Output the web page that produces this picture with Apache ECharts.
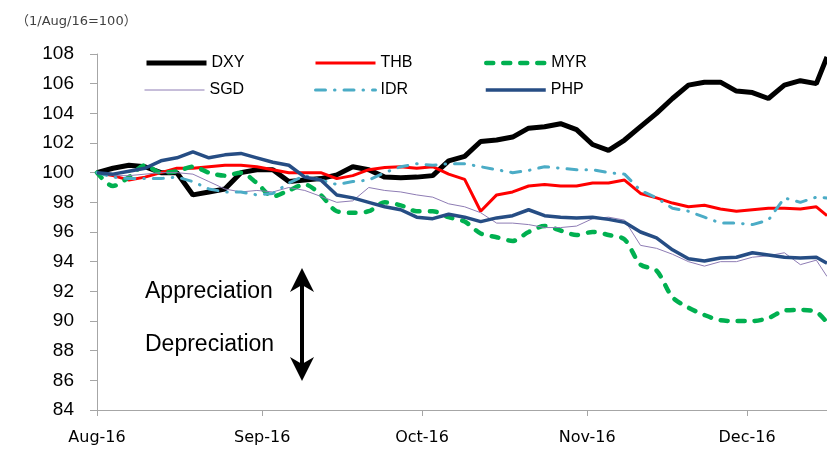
<!doctype html>
<html>
	<head>
		<meta charset="UTF-8">
		<title></title>
		<style type="text/css">
			html, body { margin: 0; padding: 0; background: #fff; }
			#chart { width: 827px; height: 450px; }
		</style>
	</head>
	<body>
		<div id="chart"></div>
		<script src="https://cdn.jsdelivr.net/npm/echarts@6.0.0/dist/echarts.min.js"></script>
		<script type="text/javascript">
			// 日付 (1/Aug/16=100)
			var dates = [
				'2016-08-01','2016-08-04','2016-08-07','2016-08-10','2016-08-13','2016-08-16','2016-08-19','2016-08-22','2016-08-25','2016-08-28','2016-08-31',
				'2016-09-03','2016-09-06','2016-09-09','2016-09-12','2016-09-15','2016-09-18','2016-09-21','2016-09-24','2016-09-27','2016-09-30',
				'2016-10-03','2016-10-06','2016-10-09','2016-10-12','2016-10-15','2016-10-18','2016-10-21','2016-10-24','2016-10-27','2016-10-30',
				'2016-11-02','2016-11-05','2016-11-08','2016-11-11','2016-11-14','2016-11-17','2016-11-20','2016-11-23','2016-11-26','2016-11-29',
				'2016-12-02','2016-12-05','2016-12-08','2016-12-11','2016-12-14','2016-12-16'
			];
			var monthLabels = ['Jan','Feb','Mar','Apr','May','Jun','Jul','Aug','Sep','Oct','Nov','Dec'];

			var dxy = [100.0,100.3,100.5,100.4,100.0,100.0,98.5,98.7,98.9,100.0,100.2,
				100.2,99.4,99.5,99.6,99.85,100.4,100.2,99.7,99.65,99.7,
				99.8,100.8,101.1,102.1,102.2,102.4,103.0,103.1,103.3,102.9,
				101.9,101.5,102.2,103.1,104.0,105.0,105.9,106.1,106.1,105.5,
				105.4,105.0,105.9,106.2,106.0,107.8];
			var thb = [100.0,99.8,99.5,99.7,100.0,100.3,100.3,100.4,100.5,100.5,100.4,
				100.2,100.0,100.0,100.0,99.6,99.8,100.2,100.35,100.4,100.3,
				100.4,99.9,99.55,97.4,98.5,98.7,99.1,99.2,99.1,99.1,
				99.3,99.3,99.5,98.6,98.3,97.95,97.7,97.8,97.55,97.4,
				97.5,97.6,97.6,97.55,97.7,97.1];
			var myr = [100.0,99.1,99.7,100.5,100.0,100.1,100.4,100.0,99.8,100.0,99.3,
				98.4,98.8,99.2,98.5,97.4,97.3,97.4,98.0,97.8,97.4,
				97.4,97.0,96.7,95.9,95.65,95.4,96.0,96.4,96.1,95.8,
				96.0,95.8,95.5,93.8,93.4,91.6,90.9,90.4,90.05,90.0,
				90.0,90.2,90.7,90.75,90.6,89.9];
			var sgd = [100.0,99.8,99.8,99.9,100.0,100.0,99.9,99.4,98.9,98.7,98.8,
				98.7,99.0,98.8,98.4,98.0,98.1,99.0,98.8,98.7,98.5,
				98.35,97.9,97.7,97.3,96.6,96.6,96.5,96.3,96.3,96.4,
				96.9,97.0,96.8,95.1,94.9,94.5,94.0,93.7,94.0,94.0,
				94.3,94.4,94.6,93.8,94.1,93.0];
			var idr = [100.0,99.7,99.6,99.6,99.6,99.7,99.4,98.9,98.7,98.7,98.5,
				98.6,99.3,99.8,99.5,99.2,99.4,99.5,100.0,100.4,100.6,
				100.5,100.6,100.6,100.4,100.2,100.0,100.15,100.4,100.3,100.2,
				100.2,100.0,99.9,98.8,98.3,97.6,97.4,97.0,96.6,96.6,
				96.5,96.8,98.3,98.0,98.35,98.3];
			var php = [100.0,99.9,100.1,100.3,100.8,101.0,101.4,101.0,101.2,101.3,101.0,
				100.7,100.5,99.7,99.5,98.5,98.3,98.0,97.7,97.5,97.0,
				96.9,97.2,97.0,96.7,96.95,97.1,97.5,97.1,97.0,96.95,
				97.0,96.85,96.65,96.0,95.6,94.8,94.2,94.05,94.25,94.3,
				94.6,94.45,94.3,94.25,94.3,93.9];

			function pairs(values) {
				return dates.map(function (d, i) { return [d, values[i]]; });
			}

			var chart = echarts.init(document.getElementById('chart'));
			var axisColor = '#a6a6a6';

			//系列の線種
			var styles = {
				DXY: { width: 5, color: '#000000' },
				THB: { width: 3, color: '#ff0000' },
				MYR: { width: 4.5, color: '#00b050', type: [7, 10], cap: 'round' },
				SGD: { width: 1, color: '#8e7cb4' },
				IDR: { width: 3, color: '#4bacc6', type: [10, 9, 0.5, 9], cap: 'round' },
				PHP: { width: 3.5, color: '#264d84' }
			};

			//凡例: 3列 x 2行, 1項目ずつ配置
			function legendItem(name, left, top) {
				return {
					data: [name],
					left: left,
					top: top,
					itemWidth: 60,
					itemHeight: 14,
					itemStyle: { opacity: 0 },
					lineStyle: styles[name],
					textStyle: { fontFamily: 'Liberation Sans', fontSize: 16, color: '#000' }
				};
			}

			var option = {
				animation: false,
				backgroundColor: '#fff',
				title: {
					text: '（1/Aug/16=100）',
					left: 11,
					top: 10,
					textStyle: {
						fontFamily: 'DejaVu Sans, Noto Sans CJK JP',
						fontSize: 13,
						fontWeight: 'normal',
						color: '#404040'
					}
				},
				legend: [
					legendItem('DXY', 139, 50),
					legendItem('THB', 309, 50),
					legendItem('MYR', 479, 50),
					legendItem('SGD', 139, 77),
					legendItem('IDR', 309, 77),
					legendItem('PHP', 479, 77)
				],
				grid: {
					left: 97,
					right: 0,
					top: 54,
					bottom: 40
				},
				xAxis: {
					type: 'time',
					min: dates[0],
					max: dates[dates.length - 1],
					minInterval: 28 * 86400000,
					maxInterval: 31 * 86400000,
					axisLine: { lineStyle: { color: axisColor, width: 1 } },
					axisTick: { length: 6, lineStyle: { color: axisColor } },
					splitLine: { show: false },
					axisLabel: {
						margin: 20,
						fontFamily: 'DejaVu Sans',
						fontSize: 16,
						color: '#000',
						formatter: function (v) {
							var d = new Date(v);
							return monthLabels[d.getMonth()] + '-' + String(d.getFullYear()).slice(2);
						}
					}
				},
				yAxis: {
					type: 'value',
					min: 84,
					max: 108,
					interval: 2,
					axisLine: { show: true, lineStyle: { color: axisColor, width: 1 } },
					axisTick: { show: true, length: 7, lineStyle: { color: axisColor } },
					splitLine: { show: false },
					axisLabel: {
						margin: 23,
						fontFamily: 'Liberation Sans',
						fontSize: 19,
						color: '#000'
					}
				},
				series: [
					{ name: 'DXY', data: pairs(dxy) },
					{ name: 'THB', data: pairs(thb) },
					{ name: 'MYR', data: pairs(myr), smooth: 0.3 },
					{ name: 'SGD', data: pairs(sgd) },
					{ name: 'IDR', data: pairs(idr) },
					{ name: 'PHP', data: pairs(php) }
				].map(function (s) {
					s.type = 'line';
					s.symbol = 'none';
					s.color = styles[s.name].color;
					s.lineStyle = styles[s.name];
					return s;
				}),
				graphic: [
					{ type: 'text', left: 145, top: 280, style: { text: 'Appreciation', fontFamily: 'Liberation Sans', fontSize: 23, fill: '#000' } },
					{ type: 'text', left: 145, top: 333, style: { text: 'Depreciation', fontFamily: 'Liberation Sans', fontSize: 23, fill: '#000' } },
					{ type: 'line', shape: { x1: 302, y1: 282, x2: 302, y2: 368 }, style: { stroke: '#000', lineWidth: 4 } },
					{ type: 'polygon', shape: { points: [[302, 268], [290, 292], [302, 285], [314, 292]] }, style: { fill: '#000' } },
					{ type: 'polygon', shape: { points: [[302, 381], [290, 357], [302, 364], [314, 357]] }, style: { fill: '#000' } }
				]
			};

			chart.setOption(option);
		</script>
	</body>
</html>
